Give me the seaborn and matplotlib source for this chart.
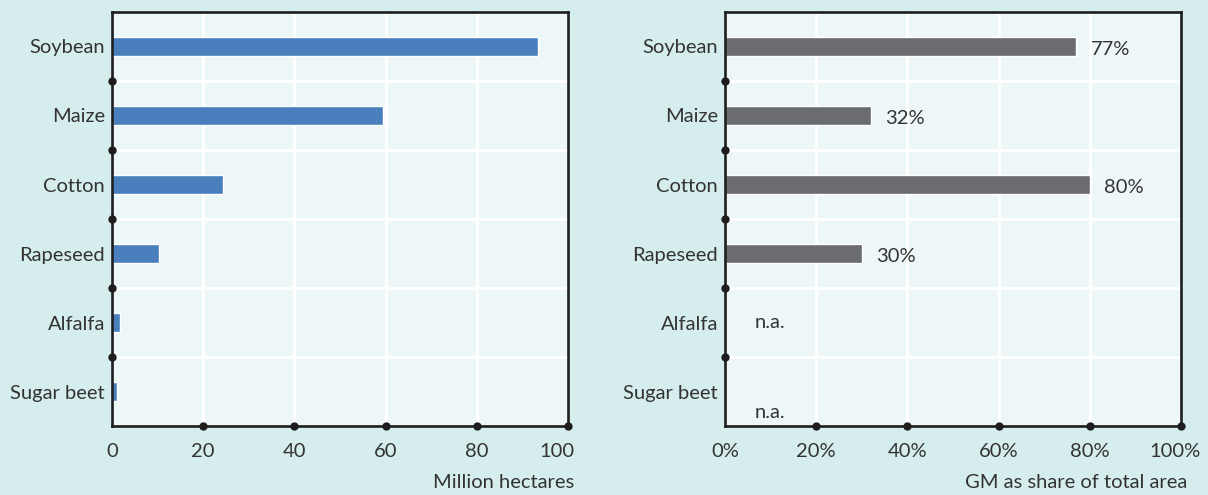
import matplotlib
matplotlib.use("Agg")
import matplotlib.pyplot as plt
import matplotlib.transforms as mtransforms
import seaborn as sns
import pandas as pd
import numpy as np

# ---- data ----
crops = ["Soybean", "Maize", "Cotton", "Rapeseed", "Alfalfa", "Sugar beet"]
area_mha = [93.5, 59.5, 24.3, 10.2, 1.8, 1.1]
gm_share = [77, 32, 80, 30, np.nan, np.nan]
gm_labels = ["77%", "32%", "80%", "30%", "n.a.", "n.a."]
ticks_left = [0, 20, 40, 60, 80, 100]
ticklabels_left = ["0", "20", "40", "60", "80", "100"]
ticks_right = [0, 20, 40, 60, 80, 100]
ticklabels_right = ["0%", "20%", "40%", "60%", "80%", "100%"]
xlabel_left = "Million hectares"
xlabel_right = "GM as share of total area"

# ---- style ----
FIG_BG = "#d6eded"
AX_BG = "#eef7f8"
BLUE = "#4a7fbe"
GRAY = "#6b6c6f"
INK = "#1e1e1e"
TXT = "#333333"
FS = 14.5

sns.set_theme(style="white")
plt.rcParams["font.family"] = ["Lato", "DejaVu Sans"]

W, H = 1208, 495
fig = plt.figure(figsize=(W / 100, H / 100), dpi=100, facecolor=FIG_BG)
ax_l = fig.add_axes([112 / W, (H - 426) / H, 456 / W, 414 / H])
ax_r = fig.add_axes([725 / W, (H - 426) / H, 456 / W, 414 / H])

df = pd.DataFrame({"crop": crops, "area": area_mha, "share": gm_share})

sns.barplot(data=df, y="crop", x="area", order=crops, ax=ax_l, color=BLUE,
            width=0.27, saturation=1, errorbar=None, orient="h", zorder=3)
sns.barplot(data=df, y="crop", x="share", order=crops, ax=ax_r, color=GRAY,
            width=0.27, saturation=1, errorbar=None, orient="h", zorder=3)


def style(ax, ticks, ticklabels, xlabel, shift_px):
    n = len(crops)
    ax.set_facecolor(AX_BG)
    ax.set_xlim(ticks[0], ticks[-1])
    ax.set_ylim(n - 0.5, -0.5)
    for s in ax.spines.values():
        s.set_visible(True)
        s.set_color(INK)
        s.set_linewidth(1.9)
        s.set_zorder(4)
    ax.set_xticks(ticks)
    ax.set_xticklabels(ticklabels)
    ax.set_yticks(range(n))
    ax.set_yticklabels(crops)
    bounds = [i + 0.5 for i in range(n - 1)]
    ax.set_yticks(bounds, minor=True)
    ax.tick_params(axis="both", which="both", length=0)
    ax.tick_params(axis="y", labelsize=FS, labelcolor=TXT, pad=5)
    ax.tick_params(axis="x", labelsize=FS, labelcolor=TXT, pad=12)
    ax.set_xlabel("")
    ax.set_ylabel("")
    # gridlines
    for t in ticks[1:-1]:
        ax.axvline(t, color="white", lw=2, zorder=1)
    for b in bounds:
        ax.axhline(b, color="white", lw=2, zorder=1)
    # tick dots
    ax.scatter(ticks[1:], [n - 0.5] * (len(ticks) - 1), s=36, color=INK,
               clip_on=False, zorder=6, linewidths=0)
    ax.scatter([ticks[0]] * len(bounds), bounds, s=36, color=INK,
               clip_on=False, zorder=6, linewidths=0)
    # shift last tick label
    lbl = ax.get_xticklabels()[-1]
    lbl.set_transform(lbl.get_transform() +
                      mtransforms.ScaledTranslation(-shift_px / 100, 0, fig.dpi_scale_trans))
    ax.text(1.0 + 6 / 456, -57 / 414, xlabel, transform=ax.transAxes,
            ha="right", va="center", fontsize=FS, color=TXT)


style(ax_l, ticks_left, ticklabels_left, xlabel_left, 11)
style(ax_r, ticks_right, ticklabels_right, xlabel_right, 6)

# value labels on right panel
for i, (v, lab) in enumerate(zip(gm_share, gm_labels)):
    if np.isnan(v):
        x = 6.6
        y = i + (0.0 if i == len(crops) - 2 else 0.31)
    else:
        x = v + 3.2
        y = i + 0.05
    ax_r.text(x, y, lab, ha="left", va="center", fontsize=FS, color=TXT, zorder=5)

fig.savefig("out.png", dpi=100, facecolor=FIG_BG)
